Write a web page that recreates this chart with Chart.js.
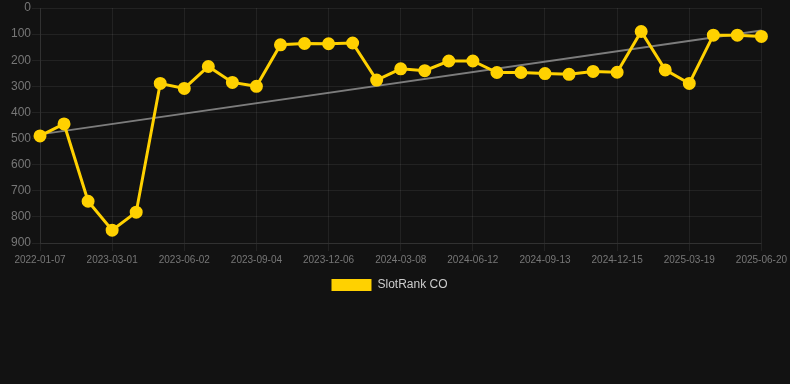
<!DOCTYPE html>
<html>
<head>
<meta charset="utf-8">
<script src="https://cdn.jsdelivr.net/npm/chart.js@4/dist/chart.umd.min.js"></script>
<style>
  html, body { margin: 0; padding: 0; background: #121212; }
  #wrap { width: 790px; height: 301px; }
</style>
</head>
<body>
<div id="wrap"><canvas id="chart"></canvas></div>
<script>
const dates = [
  "2022-01-07", "2023-01-02", "2023-01-30", "2023-03-01", "2023-04-01", "2023-05-02",
  "2023-06-02", "2023-07-03", "2023-08-03", "2023-09-04", "2023-10-05", "2023-11-05",
  "2023-12-06", "2024-01-06", "2024-02-06", "2024-03-08", "2024-04-09", "2024-05-11",
  "2024-06-12", "2024-07-13", "2024-08-13", "2024-09-13", "2024-10-14", "2024-11-14",
  "2024-12-15", "2025-01-15", "2025-02-16", "2025-03-19", "2025-04-19", "2025-05-20",
  "2025-06-20"
];
const ranks = [
  490, 444, 740, 851, 782, 289, 308, 224, 285, 300, 141, 136, 137, 134, 276, 233,
  240, 203, 203, 247, 247, 251, 254, 243, 246, 90, 237, 289, 104, 104, 109
];
// trend line ends; nothing in between
const trendStart = 484;
const trendEnd = 86;
const yTicks = [0, 100, 200, 300, 400, 500, 600, 700, 800, 900];

const trend = dates.map((d, i) => i === 0 ? trendStart : (i === dates.length - 1 ? trendEnd : null));
const gridColor = "rgba(255,255,255,0.07)";
const font = "'Liberation Sans', Arial, Helvetica, sans-serif";

new Chart(document.getElementById("chart"), {
  type: "line",
  data: {
    labels: dates,
    datasets: [
      {
        label: "SlotRank CO",
        data: ranks,
        borderColor: "#FFD100",
        backgroundColor: "#FFD100",
        borderWidth: 3,
        pointRadius: 5,
        pointHoverRadius: 5,
        pointBackgroundColor: "#FFD100",
        pointBorderColor: "#FFD100",
        tension: 0,
      },
      {
        label: "trend",
        data: trend,
        spanGaps: true,
        borderColor: "rgba(160,160,160,0.75)",
        borderWidth: 2,
        pointRadius: 0,
        fill: false,
      },
    ],
  },
  options: {
    responsive: true,
    maintainAspectRatio: false,
    animation: false,
    layout: { padding: { left: 0, right: 11, top: 0, bottom: 0 } },
    plugins: {
      legend: {
        position: "bottom",
        labels: {
          color: "#cccccc",
          boxWidth: 40,
          boxHeight: 12,
          font: { family: font, size: 12 },
          generateLabels: (chart) =>
            Chart.defaults.plugins.legend.labels.generateLabels(chart)
              .filter((item) => item.text !== "trend")
              .map((item) => ({ ...item, lineWidth: 0 })),
        },
      },
      tooltip: { enabled: false },
    },
    scales: {
      x: {
        ticks: {
          color: "#777777",
          font: { family: font, size: 10 },
          autoSkip: false,
          maxRotation: 0,
          callback: function (val, idx) {
            return idx % 3 === 0 ? this.getLabelForValue(val) : "";
          },
        },
        grid: {
          color: (ctx) => (ctx.index % 3 === 0 ? gridColor : "rgba(0,0,0,0)"),
        },
        border: { color: gridColor },
      },
      y: {
        reverse: true,
        min: yTicks[0],
        max: yTicks[yTicks.length - 1],
        afterBuildTicks: (axis) => { axis.ticks = yTicks.map((v) => ({ value: v })); },
        afterFit: (axis) => { axis.width = 40; },
        ticks: {
          color: "#777777",
          padding: 1,
          font: { family: font, size: 12, lineHeight: 0.17 },
        },
        grid: { color: gridColor, tickLength: 8 },
        border: { color: gridColor },
      },
    },
  },
});
</script>
</body>
</html>
